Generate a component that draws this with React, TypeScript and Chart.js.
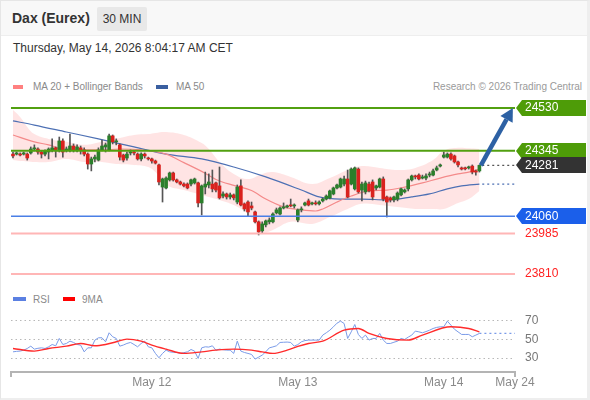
import React, { useEffect, useRef } from "react";
import { Chart, registerables } from "chart.js";

Chart.register(...registerables);

const FONT = "'Liberation Sans', Arial, Helvetica, sans-serif";
Chart.defaults.font.family = FONT;

// ---------- DATA ----------
const candleOpen = [24330,24330,24330,24330,24330,24335,24352,24352,24339,24330,24339,24348,24357,24344,24387,24348,24348,24365,24348,24357,24348,24330,24287,24309,24304,24348,24361,24348,24409,24383,24370,24326,24313,24335,24339,24330,24309,24330,24313,24309,24300,24283,24187,24183,24218,24248,24218,24209,24200,24200,24200,24205,24205,24118,24187,24196,24200,24205,24192,24148,24157,24144,24153,24122,24192,24114,24122,24105,24079,24036,23997,24023,24036,24036,24075,24070,24096,24101,24109,24105,24044,24088,24109,24127,24114,24118,24114,24127,24135,24140,24157,24183,24187,24200,24222,24200,24179,24265,24174,24166,24200,24209,24183,24187,24222,24144,24140,24131,24135,24153,24166,24179,24218,24235,24239,24226,24226,24239,24239,24261,24278,24317,24317,24330,24322,24296,24270,24268,24270,24278,24257,24257];
const candleHigh = [24339,24339,24335,24339,24335,24361,24370,24357,24344,24348,24357,24396,24361,24404,24396,24361,24417,24374,24370,24365,24357,24335,24317,24326,24357,24391,24378,24417,24413,24396,24374,24330,24339,24348,24344,24335,24335,24335,24317,24313,24304,24287,24226,24231,24252,24252,24222,24213,24205,24205,24222,24226,24209,24196,24252,24244,24261,24209,24274,24166,24161,24161,24157,24196,24218,24118,24127,24122,24083,24040,24036,24044,24053,24075,24096,24101,24118,24109,24135,24114,24092,24101,24122,24135,24122,24127,24127,24140,24153,24174,24187,24200,24226,24235,24261,24270,24274,24270,24209,24213,24209,24218,24196,24226,24231,24148,24144,24148,24166,24183,24179,24222,24239,24239,24244,24239,24244,24252,24265,24278,24287,24339,24335,24335,24326,24300,24274,24274,24278,24283,24261,24283];
const candleLow = [24313,24326,24322,24326,24304,24330,24344,24330,24313,24322,24309,24339,24317,24339,24317,24339,24339,24339,24339,24330,24322,24265,24257,24296,24300,24344,24339,24344,24374,24370,24304,24296,24304,24326,24326,24304,24300,24313,24304,24291,24287,24196,24122,24179,24213,24213,24205,24196,24187,24179,24192,24200,24101,24066,24157,24183,24166,24166,24135,24140,24135,24135,24131,24114,24105,24083,24062,24088,24031,23979,23988,24014,24027,24031,24070,24066,24092,24096,24101,24096,24036,24079,24105,24105,24109,24109,24109,24122,24131,24135,24153,24179,24183,24192,24140,24196,24174,24161,24127,24157,24166,24131,24174,24183,24127,24057,24122,24122,24127,24148,24161,24170,24213,24222,24218,24222,24218,24231,24235,24257,24274,24313,24313,24304,24291,24274,24261,24261,24265,24244,24239,24252];
const candleClose = [24322,24335,24326,24335,24313,24352,24357,24339,24330,24344,24352,24357,24344,24387,24339,24352,24365,24348,24361,24348,24330,24287,24309,24317,24348,24365,24370,24409,24383,24387,24317,24304,24330,24339,24335,24309,24330,24322,24309,24300,24291,24209,24222,24226,24248,24218,24209,24200,24192,24183,24218,24222,24118,24192,24200,24209,24179,24174,24140,24157,24144,24153,24140,24187,24109,24092,24079,24096,24036,23992,24027,24040,24044,24070,24088,24096,24101,24105,24105,24109,24088,24092,24118,24109,24118,24114,24122,24135,24148,24170,24183,24196,24222,24222,24144,24265,24270,24166,24200,24205,24170,24144,24192,24222,24135,24122,24131,24144,24161,24179,24174,24218,24235,24231,24222,24231,24235,24244,24257,24270,24283,24326,24330,24309,24296,24283,24265,24266,24274,24252,24252,24281];

const ma20Index = [0, 6, 10, 15, 25, 30, 36, 43, 48, 53, 57, 62, 67, 71, 76, 81, 85, 87, 91, 95, 100, 105, 110, 115, 120, 125, 128, 131];
const ma20Value = [24413, 24383, 24370, 24348, 24348, 24352, 24348, 24330, 24293, 24255, 24220, 24194, 24172, 24135, 24101, 24088, 24083, 24092, 24122, 24148, 24170, 24174, 24187, 24205, 24226, 24244, 24252, 24265];

const ma50Index = [0, 6, 15, 24, 34, 43, 53, 62, 71, 81, 86, 92, 98, 105, 112, 117, 122, 126, 131];
const ma50Value = [24474, 24456, 24426, 24396, 24361, 24330, 24309, 24274, 24231, 24174, 24144, 24135, 24135, 24131, 24144, 24157, 24179, 24192, 24200];

const bandIndex = [0, 2, 4, 6, 10, 15, 20, 25, 29, 34, 38, 40, 43, 48, 53, 55, 58, 62, 66, 70, 73, 78, 84, 89, 94, 98, 103, 108, 113, 118, 121, 125, 128, 131];
const bandUpper = [24521, 24491, 24448, 24417, 24396, 24383, 24370, 24383, 24396, 24413, 24417, 24422, 24426, 24413, 24378, 24352, 24296, 24244, 24222, 24244, 24252, 24231, 24200, 24226, 24261, 24278, 24270, 24261, 24270, 24304, 24344, 24357, 24355, 24352];
const bandLower = [24304, 24300, 24298, 24296, 24296, 24309, 24296, 24296, 24287, 24283, 24274, 24252, 24196, 24174, 24153, 24144, 24131, 24109, 24070, 23992, 24001, 24036, 24027, 24057, 24092, 24114, 24109, 24100, 24092, 24092, 24092, 24118, 24135, 24170];

const levelValues = [24530, 24345, 24060, 23985, 23810];
const priceLabels = [24530, 24345, 24281, 24060, 23985, 23810];
const arrowTarget = 24530;

const rsiValue = [36.7,37.2,37.5,38.5,40.3,42.8,39.6,40.5,41.0,40.3,42.1,44.6,43.2,51.1,44.6,45.7,48.2,46.8,44.6,43.9,36.7,41.0,41.0,49.3,51.8,51.8,47.5,57.2,52.9,51.1,42.8,44.0,45.7,46.8,44.6,42.1,45.7,48.2,42.1,41.0,35.0,30.3,35.0,38.5,36.7,36.2,36.0,35.0,35.8,36.7,39.2,37.5,29.6,41.0,42.1,41.8,43.2,38.5,39.6,39.0,38.5,38.5,35.0,48.2,37.5,36.0,35.0,33.9,28.9,31.0,33.2,36.7,41.0,42.0,43.2,46.8,47.0,47.2,46.8,42.8,44.5,47.5,48.8,49.3,49.3,49.3,49.3,54.7,57.2,60.0,63.6,67.5,69.7,67.2,51.1,58.2,66.1,55.4,51.1,54.7,49.3,51.1,51.1,56.5,49.3,45.7,45.7,47.0,48.2,51.1,50.0,52.5,54.7,59.0,58.2,57.2,58.5,60.0,61.8,63.0,63.6,63.6,69.7,65.4,61.0,58.2,55.4,55.4,55.4,52.9,54.7,56.5];
const rsiMaIndex = [0, 6, 10, 15, 19, 23, 26, 29, 32, 36, 39, 43, 48, 53, 57, 62, 67, 70, 73, 77, 80, 83, 87, 93, 97, 100, 105, 111, 115, 123, 128, 131];
const rsiMaValue = [40.3, 37.5, 40.3, 42.8, 45.7, 43.2, 44.6, 47.5, 50.4, 48.2, 43.9, 39.6, 35.0, 36.7, 38.5, 39.6, 38.5, 36.7, 35.0, 38.5, 42.5, 45.7, 48.2, 60.0, 61.8, 56.5, 51.1, 49.3, 54.7, 63.6, 61.8, 58.2];
const rsiTicks = [30, 50, 70];

const xTickIndex = [39, 80, 121, 141];
const xTickLabels = ["May 12", "May 13", "May 14", "May 24"];

// ---------- LAYOUT / STYLE ----------
const X_MIN = -0.56;
const X_MAX = 141;
const GREEN = "#52a010";
const levelColors = [GREEN, GREEN, "#4a7fe6", "#ffb6b6", "#ffb6b6"];
const levelWidths = [2, 2, 1.5, 2, 2];
const tagFill = ["#4e9c08", "#4e9c08", "#333333", "#1b5fea", null, null];
const tagText = ["#ffffff", "#ffffff", "#ffffff", "#ffffff", "#ff2020", "#ff2020"];

const pts = (xs: number[], ys: number[]) => xs.map((x, k) => ({ x, y: ys[k] }));

const tagPlugin = {
  id: "tags",
  beforeDraw(chart: any) {
    const { ctx, chartArea } = chart;
    const ys = chart.scales.y;
    priceLabels.forEach((v, k) => {
      const fill = tagFill[k];
      if (!fill) return;
      const py = Math.round(ys.getPixelForValue(v));
      const l = chartArea.right + 1;
      const r = chart.width - 4;
      ctx.save();
      ctx.fillStyle = fill;
      ctx.beginPath();
      ctx.moveTo(l, py);
      ctx.lineTo(l + 6, py - 8);
      ctx.lineTo(r, py - 8);
      ctx.lineTo(r, py + 8);
      ctx.lineTo(l + 6, py + 8);
      ctx.closePath();
      ctx.fill();
      ctx.restore();
    });
  },
  afterDatasetsDraw(chart: any) {
    const { ctx } = chart;
    const xs = chart.scales.x;
    const ys = chart.scales.y;
    const last = candleClose.length - 1;
    const x0 = xs.getPixelForValue(last + 0.4);
    const y0 = ys.getPixelForValue(candleClose[last]);
    const x1 = xs.getPixelForValue(X_MAX - 0.6);
    const y1 = ys.getPixelForValue(arrowTarget);
    const ang = Math.atan2(y1 - y0, x1 - x0);
    const headLen = 13;
    const headW = 7;
    const bx = x1 - headLen * Math.cos(ang);
    const by = y1 - headLen * Math.sin(ang);
    ctx.save();
    ctx.strokeStyle = "#2d61a4";
    ctx.fillStyle = "#2d61a4";
    ctx.lineWidth = 4.5;
    ctx.beginPath();
    ctx.moveTo(x0, y0);
    ctx.lineTo(bx, by);
    ctx.stroke();
    ctx.beginPath();
    ctx.moveTo(x1, y1);
    ctx.lineTo(bx + headW * Math.sin(ang), by - headW * Math.cos(ang));
    ctx.lineTo(bx - headW * Math.sin(ang), by + headW * Math.cos(ang));
    ctx.closePath();
    ctx.fill();
    ctx.restore();
  },
};

const bracketPlugin = {
  id: "bracket",
  afterDraw(chart: any) {
    const { ctx, chartArea } = chart;
    ctx.save();
    ctx.strokeStyle = "#b4b4b4";
    ctx.lineWidth = 2;
    ctx.beginPath();
    ctx.moveTo(chartArea.left, chartArea.bottom);
    ctx.lineTo(chartArea.left, chartArea.bottom + 5);
    ctx.moveTo(chartArea.right, chartArea.bottom);
    ctx.lineTo(chartArea.right, chartArea.bottom + 5);
    ctx.stroke();
    ctx.restore();
  },
};

function priceConfig(): any {
  const n = candleClose.length;
  const idx = candleClose.map((_, i) => i);
  const up = (i: number) => candleClose[i] >= candleOpen[i];
  const levelSets = levelValues.map((v, k) => ({
    type: "line",
    data: [{ x: X_MIN, y: v }, { x: X_MAX, y: v }],
    borderColor: levelColors[k],
    borderWidth: levelWidths[k],
    pointRadius: 0,
    order: 2,
  }));
  return {
    type: "bar",
    data: {
      datasets: [
        {
          type: "line",
          data: pts(bandIndex, bandUpper),
          borderWidth: 0,
          borderColor: "rgba(0,0,0,0)",
          backgroundColor: "rgba(255,205,205,0.55)",
          pointRadius: 0,
          tension: 0.4,
          fill: "+1",
          order: 10,
        },
        {
          type: "line",
          data: pts(bandIndex, bandLower),
          borderWidth: 0,
          borderColor: "rgba(0,0,0,0)",
          pointRadius: 0,
          tension: 0.4,
          fill: false,
          order: 11,
        },
        {
          type: "line",
          data: pts(ma20Index, ma20Value),
          borderColor: "#f48a8a",
          borderWidth: 1.2,
          pointRadius: 0,
          tension: 0.4,
          cubicInterpolationMode: "monotone",
          order: 6,
        },
        {
          type: "line",
          data: pts(ma50Index, ma50Value),
          borderColor: "#4d70b4",
          borderWidth: 1.2,
          pointRadius: 0,
          tension: 0.4,
          cubicInterpolationMode: "monotone",
          order: 6,
        },
        {
          type: "bar",
          data: idx.map((i) => ({ x: i, y: [candleLow[i], candleHigh[i]] })),
          backgroundColor: "#555555",
          barThickness: 1,
          grouped: false,
          order: 5,
        },
        {
          type: "bar",
          data: idx.map((i) => ({ x: i, y: [candleOpen[i], candleClose[i]] })),
          backgroundColor: (c: any) => (up(c.dataIndex) ? "#2b7f2b" : "#d9221e"),
          barThickness: 3,
          minBarLength: 1,
          grouped: false,
          order: 4,
        },
        ...levelSets,
        {
          type: "line",
          data: [{ x: n - 0.2, y: candleClose[n - 1] }, { x: X_MAX, y: candleClose[n - 1] }],
          borderColor: "#555555",
          borderWidth: 1.2,
          borderDash: [2, 3],
          pointRadius: 0,
          order: 3,
        },
        {
          type: "line",
          data: [{ x: n - 0.2, y: ma50Value[ma50Value.length - 1] }, { x: X_MAX, y: ma50Value[ma50Value.length - 1] }],
          borderColor: "#4d70b4",
          borderWidth: 1.2,
          borderDash: [2, 3],
          pointRadius: 0,
          order: 3,
        },
      ],
    },
    options: {
      responsive: false,
      animation: false,
      devicePixelRatio: 1,
      events: [],
      layout: { padding: { left: 11, top: 5, bottom: 5, right: 0 } },
      plugins: { legend: { display: false }, tooltip: { enabled: false } },
      scales: {
        x: { type: "linear", min: X_MIN, max: X_MAX, offset: false, display: false },
        y: {
          type: "linear",
          position: "right",
          min: 23775,
          max: 24556,
          grid: { display: false, drawTicks: false },
          border: { display: false },
          afterBuildTicks: (s: any) => {
            s.ticks = priceLabels.map((v) => ({ value: v }));
          },
          afterFit: (s: any) => {
            s.width = 75;
            s.paddingTop = 0;
            s.paddingBottom = 0;
          },
          ticks: {
            autoSkip: false,
            padding: 10,
            font: { size: 12, family: FONT },
            color: (c: any) => tagText[priceLabels.indexOf(c.tick.value)] || "#333",
            callback: (v: any) => String(v),
          },
        },
      },
    },
    plugins: [tagPlugin],
  };
}

function rsiConfig(): any {
  const n = rsiValue.length;
  return {
    type: "line",
    data: {
      datasets: [
        {
          data: pts(rsiMaIndex, rsiMaValue),
          borderColor: "#ff2b2b",
          borderWidth: 1.4,
          pointRadius: 0,
          tension: 0.4,
          cubicInterpolationMode: "monotone",
          order: 1,
        },
        {
          data: rsiValue.map((v, i) => ({ x: i, y: v })),
          borderColor: "#7a9be8",
          borderWidth: 1,
          pointRadius: 0,
          tension: 0,
          order: 2,
        },
        {
          data: [{ x: n - 1, y: rsiValue[n - 1] }, { x: X_MAX, y: rsiValue[n - 1] }],
          borderColor: "#7a9be8",
          borderWidth: 1.2,
          borderDash: [2, 3],
          pointRadius: 0,
          order: 3,
        },
      ],
    },
    options: {
      responsive: false,
      animation: false,
      devicePixelRatio: 1,
      events: [],
      layout: { padding: { left: 11, top: 5, bottom: 0, right: 0 } },
      plugins: { legend: { display: false }, tooltip: { enabled: false } },
      scales: {
        x: {
          type: "linear",
          min: X_MIN,
          max: X_MAX,
          offset: false,
          grid: { display: false, drawTicks: false },
          border: { display: true, color: "#b4b4b4", width: 2 },
          afterBuildTicks: (s: any) => {
            s.ticks = xTickIndex.map((v) => ({ value: v }));
          },
          afterFit: (s: any) => {
            s.height = 28;
            s.paddingLeft = 0;
            s.paddingRight = 0;
          },
          ticks: {
            autoSkip: false,
            maxRotation: 0,
            padding: 3,
            color: "#8a8a8a",
            font: { size: 12, family: FONT },
            callback: (v: any) => xTickLabels[xTickIndex.indexOf(v)] ?? "",
          },
        },
        y: {
          type: "linear",
          position: "right",
          min: 15,
          max: 81.7,
          grid: { display: true, drawTicks: false, color: "#b8b8b8", lineWidth: 1 },
          border: { display: false, dash: [1.5, 3] },
          afterBuildTicks: (s: any) => {
            s.ticks = rsiTicks.map((v) => ({ value: v }));
          },
          afterFit: (s: any) => {
            s.width = 75;
            s.paddingTop = 0;
            s.paddingBottom = 0;
          },
          ticks: {
            autoSkip: false,
            padding: 10,
            color: "#777777",
            font: { size: 12, family: FONT },
            callback: (v: any) => String(v),
          },
        },
      },
    },
    plugins: [bracketPlugin],
  };
}

const legendText: React.CSSProperties = {
  position: "absolute",
  fontSize: 10,
  color: "#8a8a8a",
  lineHeight: "13px",
  whiteSpace: "nowrap",
};

export default function App() {
  const priceRef = useRef<HTMLCanvasElement>(null);
  const rsiRef = useRef<HTMLCanvasElement>(null);

  useEffect(() => {
    const pc = new Chart(priceRef.current as HTMLCanvasElement, priceConfig());
    const rc = new Chart(rsiRef.current as HTMLCanvasElement, rsiConfig());
    return () => {
      pc.destroy();
      rc.destroy();
    };
  }, []);

  return (
    <div
      style={{
        position: "absolute",
        left: 0,
        top: 0,
        width: 590,
        height: 400,
        background: "#ffffff",
        fontFamily: FONT,
        overflow: "hidden",
      }}
    >
      <div
        style={{
          position: "absolute",
          left: 0,
          top: 0,
          width: 586,
          height: 397,
          border: "1px solid #e6e6e6",
          borderRight: "3px solid #eeeeee",
          borderBottom: "2px solid #eeeeee",
        }}
      />
      <div
        style={{
          position: "absolute",
          left: 1,
          top: 1,
          width: 586,
          height: 34,
          background: "#f8f8f8",
          borderBottom: "1px solid #eeeeee",
        }}
      />
      <div
        style={{
          position: "absolute",
          left: 12,
          top: 9,
          fontSize: 14,
          fontWeight: "bold",
          color: "#333333",
          lineHeight: "18px",
          whiteSpace: "nowrap",
        }}
      >
        Dax (Eurex)
      </div>
      <div
        style={{
          position: "absolute",
          left: 97,
          top: 7,
          width: 50,
          height: 24,
          background: "#e8e8e8",
          fontSize: 12,
          color: "#333333",
          lineHeight: "24px",
          textAlign: "center",
          borderRadius: 2,
        }}
      >
        30 MIN
      </div>
      <div
        style={{
          position: "absolute",
          left: 13,
          top: 40,
          fontSize: 12,
          color: "#333333",
          lineHeight: "16px",
          whiteSpace: "nowrap",
        }}
      >
        Thursday, May 14, 2026 8:04:17 AM CET
      </div>

      <div style={{ position: "absolute", left: 13, top: 85, width: 10, height: 4, background: "#ff8080" }} />
      <div style={{ ...legendText, left: 33, top: 80 }}>MA 20 + Bollinger Bands</div>
      <div style={{ position: "absolute", left: 156, top: 85, width: 12, height: 4, background: "#3a5fa0" }} />
      <div style={{ ...legendText, left: 176, top: 80 }}>MA 50</div>
      <div style={{ ...legendText, right: 8, top: 80, color: "#9a9a9a" }}>Research © 2026 Trading Central</div>

      <canvas
        ref={priceRef}
        width={590}
        height={190}
        style={{ position: "absolute", left: 0, top: 97, width: 590, height: 190 }}
      />

      <div style={{ position: "absolute", left: 13, top: 297, width: 13, height: 4, background: "#5b80e2" }} />
      <div style={{ ...legendText, left: 33, top: 293 }}>RSI</div>
      <div style={{ position: "absolute", left: 63, top: 297, width: 12, height: 4, background: "#ff0000" }} />
      <div style={{ ...legendText, left: 82, top: 293 }}>9MA</div>

      <canvas
        ref={rsiRef}
        width={590}
        height={95}
        style={{ position: "absolute", left: 0, top: 305, width: 590, height: 95 }}
      />
    </div>
  );
}
